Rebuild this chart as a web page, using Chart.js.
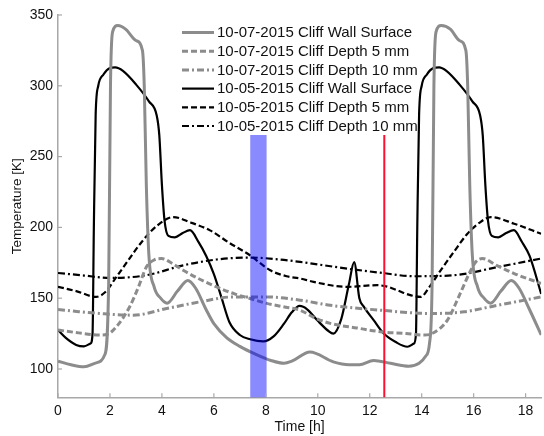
<!DOCTYPE html>
<html>
<head>
<meta charset="utf-8">
<script src="https://cdn.jsdelivr.net/npm/chart.js@4"></script>
<style>
  body { margin: 0; background: #fff; }
  #wrap { width: 544px; height: 436px; }
</style>
</head>
<body>
<div id="wrap"><canvas id="temp-chart" width="544" height="436"></canvas></div>
<script>
// series: [time h, temperature K]
const surface0710 = [[0,105.5],[0.5,103],[1.0,101.5],[1.5,104.5],[1.8,110],[1.95,160],[2.02,300],[2.1,338],[2.3,342.5],[2.6,340],[3.0,332],[3.25,325],[3.32,300],[3.4,230],[3.5,180],[3.7,158],[3.95,150],[4.2,146.5],[4.6,155],[5.0,162.5],[5.3,157],[5.7,142],[6.0,132],[6.5,122],[7.0,116],[7.6,110.5],[8.2,106],[8.7,104],[9.0,105.5],[9.7,112],[10.6,105],[11.2,103],[11.6,103],[12.15,106],[12.8,104],[13.5,102],[13.9,104],[14.15,109],[14.3,118],[14.4,160],[14.47,300],[14.55,338],[14.75,342.5],[15.1,340],[15.45,332],[15.7,325],[15.77,300],[15.85,230],[15.95,180],[16.15,158],[16.4,150],[16.65,146.5],[17.05,155],[17.45,162.5],[17.75,157],[18.15,142],[18.6,124]];
const depth5_0710 = [[0,127.5],[0.8,125.5],[1.6,124],[1.9,124.5],[2.3,131],[2.76,144],[3.1,158],[3.4,172],[3.7,177],[3.98,178],[4.4,174.5],[4.82,169.7],[5.5,163],[6.1,158],[6.8,153],[7.39,149.8],[8.0,146.5],[8.68,143.9],[9.32,141.5],[9.9,136],[10.48,132.2],[11.5,129],[12.41,126.3],[13.4,125],[14.1,124],[14.4,125],[14.99,134.5],[15.45,152],[15.89,169.7],[16.1,176],[16.34,178],[16.9,173],[17.56,167.4],[18.6,160.4]];
const depth10_0710 = [[0,142],[0.8,140.5],[1.6,139.2],[2.89,138],[4.18,142.7],[5.46,147.4],[6.75,150.9],[8.04,150.9],[9.32,148.6],[10.48,145],[12.41,141.5],[14.36,139.2],[15.63,140.4],[16.92,145],[18.6,150.9]];
const surface0510 = [[0,127.5],[0.3,122],[0.7,117],[1.0,116],[1.25,118],[1.33,125],[1.38,200],[1.45,280],[1.55,300],[1.75,308],[2.0,312.5],[2.2,313],[2.5,310.5],[3.0,301],[3.5,289],[3.8,279],[3.9,265],[4.0,230],[4.1,205],[4.25,194],[4.5,193],[4.8,196],[5.08,198],[5.4,190],[5.7,180],[6.0,167],[6.3,150],[6.6,133],[7.0,124],[7.4,121],[7.9,119.5],[8.3,123],[8.7,132],[9.0,140],[9.3,144.5],[9.6,142],[10.0,134],[10.4,127],[10.6,125],[10.9,135],[11.2,160],[11.4,175.5],[11.6,150],[11.77,144],[12.15,134.5],[12.54,125],[13.0,119],[13.45,115.7],[13.7,118],[13.78,125],[13.83,200],[13.9,280],[14.0,300],[14.2,308],[14.45,312.5],[14.67,313],[14.95,310.5],[15.45,301],[15.95,289],[16.25,279],[16.35,265],[16.45,230],[16.55,205],[16.7,194],[16.95,193],[17.25,196],[17.55,198],[17.85,190],[18.15,180],[18.6,153]];
const depth5_0510 = [[0,158],[0.7,155],[1.47,150.9],[1.8,154],[2.25,165],[2.75,178],[3.27,190.8],[3.8,201],[4.43,207.3],[5.1,203.5],[5.85,197.9],[6.6,189],[7.39,180.3],[8.17,169.7],[8.8,165.5],[9.32,163.9],[9.84,161.5],[11.13,158],[12.29,159.2],[12.7,158],[13.06,155.6],[13.5,152.5],[13.96,150.9],[14.3,158],[14.73,169.7],[15.25,183],[15.76,195.5],[16.2,203],[16.66,207.3],[17.56,202.6],[18.6,195.5]];
const depth10_0510 = [[0,167.8],[1.0,166],[1.99,164.3],[3.4,166.2],[4.82,173.2],[6.1,177.3],[7.39,178.7],[8.55,177.3],[9.32,175.6],[11.13,170.9],[12.4,168],[13.7,165.5],[15.24,166.2],[16.92,172],[18.6,178]];

const seriesLabels = [
  '10-07-2015 Cliff Wall Surface',
  '10-07-2015 Cliff Depth 5 mm',
  '10-07-2015 Cliff Depth 10 mm',
  '10-05-2015 Cliff Wall Surface',
  '10-05-2015 Cliff Depth 5 mm',
  '10-05-2015 Cliff Depth 10 mm'
];
const xTicks = [0, 2, 4, 6, 8, 10, 12, 14, 16, 18];
const yTicks = [100, 150, 200, 250, 300, 350];
const bandStart = 7.4;   // blue shaded interval [h]
const bandEnd = 8.03;
const markerTime = 12.56; // red marker [h]

const GRAY = '#8c8c8c';
const AXIS = '#a8a8a8';
const FONT = "'Liberation Sans', Arial, sans-serif";

function toPts(arr) { return arr.map(p => ({x: p[0], y: p[1]})); }

const styles = [
  {color: GRAY, width: 3, dash: []},
  {color: GRAY, width: 3, dash: [6, 3]},
  {color: GRAY, width: 3, dash: [7, 3, 2, 3]},
  {color: '#000', width: 2.2, dash: []},
  {color: '#000', width: 2.2, dash: [6, 3]},
  {color: '#000', width: 2.2, dash: [7, 3, 2, 3]}
];
const allSeries = [surface0710, depth5_0710, depth10_0710, surface0510, depth5_0510, depth10_0510];

const datasets = allSeries.map((s, i) => ({
  label: seriesLabels[i],
  data: toPts(s),
  borderColor: styles[i].color,
  borderWidth: styles[i].width,
  borderDash: styles[i].dash,
  pointRadius: 0,
  cubicInterpolationMode: 'monotone',
  fill: false
}));

// band, red marker, inward ticks and the legend box
const overlay = {
  id: 'overlay',
  afterDatasetsDraw(chart) {
    const {ctx, chartArea: a, scales: {x, y}} = chart;
    ctx.save();
    const x1 = x.getPixelForValue(bandStart), x2 = x.getPixelForValue(bandEnd);
    ctx.fillStyle = 'rgba(0,0,255,0.46)';
    ctx.fillRect(x1, a.top, x2 - x1, a.bottom - a.top);
    const xm = x.getPixelForValue(markerTime);
    ctx.strokeStyle = '#ff1030';
    ctx.lineWidth = 2;
    ctx.beginPath(); ctx.moveTo(xm, a.top); ctx.lineTo(xm, a.bottom); ctx.stroke();
    // inward tick marks
    ctx.strokeStyle = AXIS;
    ctx.lineWidth = 1.2;
    xTicks.forEach(v => {
      const p = x.getPixelForValue(v);
      ctx.beginPath(); ctx.moveTo(p, a.bottom); ctx.lineTo(p, a.bottom - 4); ctx.stroke();
    });
    yTicks.forEach(v => {
      const p = y.getPixelForValue(v);
      ctx.beginPath(); ctx.moveTo(a.left, p); ctx.lineTo(a.left + 4, p); ctx.stroke();
    });
    // legend (white box without border, like the original)
    ctx.fillStyle = '#fff';
    ctx.fillRect(178, a.top - 1, 232, 136 - a.top);
    ctx.font = '15px ' + FONT;
    ctx.textBaseline = 'middle';
    seriesLabels.forEach((lab, i) => {
      const ry = 32.5 + i * 18.7;
      ctx.strokeStyle = styles[i].color;
      ctx.lineWidth = styles[i].width;
      ctx.setLineDash(styles[i].dash);
      ctx.beginPath(); ctx.moveTo(182, ry); ctx.lineTo(214, ry); ctx.stroke();
      ctx.setLineDash([]);
      ctx.fillStyle = '#111';
      ctx.fillText(lab, 217, ry + 0.5);
    });
    ctx.restore();
  }
};

const ctx = document.getElementById('temp-chart').getContext('2d');
const chart = new Chart(ctx, {
  type: 'line',
  data: { datasets: datasets },
  options: {
    responsive: false,
    animation: false,
    layout: { padding: { top: 15, right: 2.8, left: 0, bottom: 0 } },
    plugins: { legend: { display: false }, tooltip: { enabled: false } },
    scales: {
      x: {
        type: 'linear',
        min: 0,
        max: 18.6,
        afterBuildTicks: s => { s.ticks = xTicks.map(v => ({value: v})); },
        afterFit: s => { s.height = 38.7; },
        grid: { display: false, drawTicks: false },
        border: { display: true, color: AXIS, width: 1.5 },
        ticks: { color: '#111', font: { family: FONT, size: 14 }, padding: 5, maxRotation: 0 },
        title: { display: true, text: 'Time [h]', color: '#111', font: { family: FONT, size: 14 }, padding: { top: 0, bottom: 0 } }
      },
      y: {
        min: 80,
        max: 350,
        afterBuildTicks: s => { s.ticks = yTicks.map(v => ({value: v})); },
        afterFit: s => { s.width = 58; },
        grid: { display: false, drawTicks: false },
        border: { display: true, color: AXIS, width: 1.5 },
        ticks: { color: '#111', font: { family: FONT, size: 14 }, padding: 5 },
        title: { display: true, text: 'Temperature [K]', color: '#111', font: { family: FONT, size: 13.5 }, padding: { top: 9, bottom: 0 } }
      }
    }
  },
  plugins: [overlay]
});
</script>
</body>
</html>
